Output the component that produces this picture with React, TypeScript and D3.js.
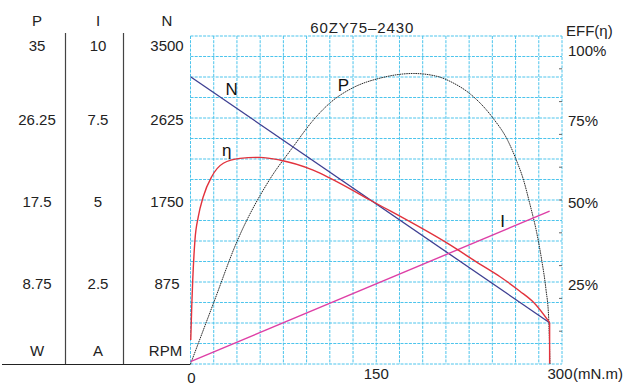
import React from "react";
import * as d3 from "d3";

// ---- data ----
const title = "60ZY75–2430";
const xTicks = [0, 150, 300];
const xUnit = "(mN.m)";

const pTickLabels = ["35", "26.25", "17.5", "8.75"];
const pTickValues = [35, 26.25, 17.5, 8.75];
const iTickLabels = ["10", "7.5", "5", "2.5"];
const iTickValues = [10, 7.5, 5, 2.5];
const nTickValues = [3500, 2625, 1750, 875];
const effTickValues = [100, 75, 50, 25];
const effMinorTicks = [10, 20, 30, 40, 50, 60, 70, 80, 90];

// speed N (rpm) vs torque
const nTorque = [0, 290];
const nSpeed = [3066, 441];

// current I (A) vs torque
const iTorque = [0, 290];
const iCurrent = [0.07, 4.66];

// efficiency (%) vs torque (last point: drop to the floor at stall)
const effTorque = [0.2, 1.0, 1.8, 3.6, 6.3, 10.3, 17.1, 26.5, 40, 56, 72, 99, 113, 145, 207, 234, 250, 266, 277, 290, 290];
const effValue = [7.3, 17.5, 25.6, 37.8, 44.9, 51.0, 57.1, 61.2, 62.7, 63.0, 62.2, 59.1, 56.6, 50.0, 36.9, 30.4, 26.6, 22.2, 18.8, 12.6, 0.2];

// output power P (W) vs torque
const pTorque = [0, 18.6, 37.3, 64, 83, 99, 113, 131.5, 153, 180, 199, 212, 226, 244.5, 256, 263, 269, 274, 279.6, 283.6, 287.1, 289.2, 290.3];
const pValue = [0, 6.5, 13.0, 19.7, 23.2, 26.0, 27.9, 29.5, 30.5, 31.0, 30.7, 30.0, 28.8, 26.2, 23.9, 21.8, 19.6, 17.1, 14.0, 11.1, 7.9, 5.0, 0];

// curve labels (data coordinates)
const nLabel = { text: "N", t: 33.3, v: 2931 };
const pLabel = { text: "P", t: 123.4, v: 29.7 };
const effLabel = { text: "η", t: 29.2, v: 65.2 };
const iLabel = { text: "I", t: 252, v: 4.34 };

// ---- layout ----
const W = 633, H = 388;
const L = 190.5, R = 562, T = 36, B = 364;
const FONT = "'Liberation Sans', Arial, Helvetica, sans-serif";

const x = d3.scaleLinear().domain([0, 300]).range([L, R]);
const yN = d3.scaleLinear().domain([0, 3500]).range([B, T]);
const yP = d3.scaleLinear().domain([0, 35]).range([B, T]);
const yI = d3.scaleLinear().domain([0, 10]).range([B, T]);
const yE = d3.scaleLinear().domain([0, 100]).range([B, T]);

const GRID = "#4cc4ec";

export default function App() {
  const labelY = (py: number) => Math.max(py + 1.5, 45);

  const nLine = d3.line<number>().x((_, i) => x(nTorque[i])).y((d) => yN(d))(nSpeed) || "";
  const iLine = d3.line<number>().x((_, i) => x(iTorque[i])).y((d) => yI(d))(iCurrent) || "";

  const nE = effValue.length;
  const eMain = d3.line<number>().x((_, i) => x(effTorque[i])).y((d) => yE(d)).curve(d3.curveMonotoneX)(effValue.slice(0, nE - 1)) || "";
  const eDrop = d3.line<number>().x((_, i) => x(effTorque[nE - 2 + i])).y((d) => yE(d))(effValue.slice(nE - 2)) || "";
  const pLine = d3.line<number>().x((_, i) => x(pTorque[i])).y((d) => yP(d)).curve(d3.curveMonotoneX)(pValue) || "";

  const vGrid = d3.range(0, 17).map((i) => (i * 300) / 16);
  const hGrid = d3.range(0, 17).map((i) => (i * 3500) / 16);

  const colP = 37, colI = 98, colN = 167;

  return (
    <div style={{ position: "fixed", left: 0, top: 0 }}>
      <svg width={W} height={H} style={{ display: "block", background: "#fff" }} fontFamily={FONT}>
        <rect x={0} y={0} width={W} height={H} fill="#fff" />
        {/* grid */}
        {vGrid.map((t, i) => (
          <line key={"v" + i} x1={x(t)} x2={x(t)} y1={T} y2={B} stroke={GRID} strokeWidth={1} strokeDasharray="3,1.2" />
        ))}
        {hGrid.map((n, i) => (
          <line key={"h" + i} x1={L} x2={R} y1={yN(n)} y2={yN(n)} stroke={GRID} strokeWidth={1} strokeDasharray="3,1.2" />
        ))}
        {/* right minor ticks */}
        {effMinorTicks.map((e) => (
          <line key={"m" + e} x1={R - 3} x2={R} y1={yE(e)} y2={yE(e)} stroke="#666" strokeWidth={1} />
        ))}

        {/* left columns */}
        <line x1={65.5} x2={65.5} y1={33} y2={B} stroke="#444" strokeWidth={1.2} />
        <line x1={123.5} x2={123.5} y1={33} y2={B} stroke="#444" strokeWidth={1.2} />
        <line x1={2} x2={L} y1={B + 0.5} y2={B + 0.5} stroke="#222" strokeWidth={1.2} />

        <g fontSize={15} fill="#222" textAnchor="middle" dominantBaseline="central">
          <text x={colP} y={20}>P</text>
          <text x={colI} y={20}>I</text>
          <text x={colN} y={20}>N</text>
          {pTickValues.map((v, i) => (
            <text key={"p" + i} x={colP} y={labelY(yP(v))}>{pTickLabels[i]}</text>
          ))}
          {iTickValues.map((v, i) => (
            <text key={"i" + i} x={colI} y={labelY(yI(v))}>{iTickLabels[i]}</text>
          ))}
          {nTickValues.map((v) => (
            <text key={"n" + v} x={colN} y={labelY(yN(v))}>{v}</text>
          ))}
          <text x={colP} y={350}>W</text>
          <text x={colI} y={350}>A</text>
          <text x={colN - 1.5} y={350}>RPM</text>
        </g>

        {/* title */}
        <text x={(L + R) / 2 - 14} y={27} fontSize={15} fill="#222" textAnchor="middle" dominantBaseline="central" letterSpacing={0.9}>
          {title}
        </text>

        {/* right axis */}
        <g fontSize={15} fill="#222" dominantBaseline="central">
          <text x={566} y={30}>EFF(η)</text>
          {effTickValues.map((v) => (
            <text key={"e" + v} x={568} y={Math.max(yE(v) + 2.5, 50)}>{v}%</text>
          ))}
        </g>

        {/* x axis labels */}
        <g fontSize={15} fill="#222" dominantBaseline="central">
          <text x={x(xTicks[0]) + 1} y={377} textAnchor="middle">{xTicks[0]}</text>
          <text x={x(xTicks[1])} y={373} textAnchor="middle">{xTicks[1]}</text>
          <text x={x(xTicks[2]) - 14.5} y={373}>{xTicks[2]}</text>
          <text x={573} y={373}>{xUnit}</text>
        </g>

        {/* curves */}
        <path d={pLine} fill="none" stroke="#2a2a2a" strokeWidth={1} strokeDasharray="1.6,0.7" />
        <path d={nLine} fill="none" stroke="#3e3f92" strokeWidth={1.3} />
        <path d={iLine} fill="none" stroke="#de3fa6" strokeWidth={1.4} />
        <path d={eMain} fill="none" stroke="#e2323c" strokeWidth={1.4} />
        <path d={eDrop} fill="none" stroke="#e2323c" strokeWidth={1.4} />

        {/* curve labels */}
        <g fontSize={17} fill="#111" textAnchor="middle" dominantBaseline="central">
          <text x={x(nLabel.t)} y={yN(nLabel.v)}>{nLabel.text}</text>
          <text x={x(pLabel.t)} y={yP(pLabel.v)}>{pLabel.text}</text>
          <text x={x(effLabel.t)} y={yE(effLabel.v)}>{effLabel.text}</text>
          <text x={x(iLabel.t)} y={yI(iLabel.v)}>{iLabel.text}</text>
        </g>
      </svg>
    </div>
  );
}
